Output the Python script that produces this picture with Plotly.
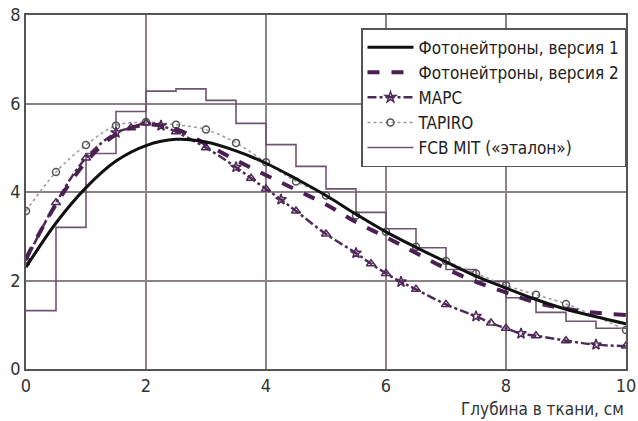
import plotly.graph_objects as go

# ---- data ----
x_v1 = [0, 0.5, 1, 1.5, 2, 2.5, 3, 3.5, 4, 4.5, 5, 5.5, 6, 6.5, 7, 7.5, 8, 8.5, 9, 9.5, 10]
y_v1 = [2.3, 3.3, 4.1, 4.7, 5.05, 5.19, 5.13, 4.93, 4.65, 4.3, 3.92, 3.5, 3.1, 2.75, 2.42, 2.1, 1.83, 1.57, 1.35, 1.18, 1.02]

x_v2 = [0, 0.5, 1, 1.5, 2, 2.5, 3, 3.5, 4, 4.5, 5, 5.5, 6, 6.5, 7, 7.5, 8, 8.5, 9, 9.5, 10]
y_v2 = [2.5, 3.72, 4.68, 5.3, 5.52, 5.42, 5.08, 4.72, 4.38, 4.05, 3.72, 3.32, 2.98, 2.62, 2.27, 1.97, 1.73, 1.5, 1.36, 1.27, 1.22]

x_mapc = [0, 0.5, 1, 1.5, 1.75, 2, 2.25, 2.5, 3, 3.5, 3.75, 4, 4.25, 4.5, 5, 5.5, 5.75, 6, 6.25, 6.5, 7, 7.5, 7.75, 8, 8.25, 8.5, 9, 9.5, 10]
y_mapc = [2.45, 3.76, 4.77, 5.34, 5.45, 5.56, 5.5, 5.36, 5.0, 4.56, 4.31, 4.07, 3.83, 3.57, 3.05, 2.62, 2.38, 2.16, 1.97, 1.8, 1.46, 1.19, 1.04, 0.92, 0.8, 0.75, 0.64, 0.55, 0.52]

x_tapiro = [0, 0.5, 1, 1.5, 2, 2.5, 3, 3.5, 4, 4.5, 5, 5.5, 6, 6.5, 7, 7.5, 8, 8.5, 9, 10]
y_tapiro = [3.57, 4.45, 5.06, 5.5, 5.58, 5.52, 5.41, 5.11, 4.67, 4.24, 3.92, 3.47, 3.1, 2.76, 2.44, 2.16, 1.89, 1.68, 1.47, 0.88]

x_fcb = [0, 0.5, 1, 1.5, 2, 2.5, 3, 3.5, 4, 4.5, 5, 5.5, 6, 6.5, 7, 7.5, 8, 8.5, 9, 9.5, 10]
y_fcb = [1.32, 3.2, 4.87, 5.82, 6.28, 6.33, 6.07, 5.55, 5.07, 4.58, 4.07, 3.54, 3.17, 2.74, 2.25, 1.98, 1.61, 1.28, 1.08, 0.92, 0.92]

names = ["Фотонейтроны, версия 1", "Фотонейтроны, версия 2", "МАРС", "TAPIRO", "FCB MIT («эталон»)"]
x_ticks = [0, 2, 4, 6, 8, 10]
y_ticks = [0, 2, 4, 6, 8]
x_title = "Глубина в ткани, см"

FONT = "DejaVu Sans Condensed, DejaVu Sans, sans-serif"

fig = go.Figure()

fig.add_trace(go.Scatter(x=x_fcb, y=y_fcb, mode="lines", line_shape="hv", name=names[4],
                         line=dict(color="#6e5470", width=1.6)))
fig.add_trace(go.Scatter(x=x_tapiro, y=y_tapiro, mode="lines+markers", name=names[3],
                         line=dict(color="#9a9a9a", width=1.5, dash="dot", shape="spline"),
                         marker=dict(symbol="circle-open", size=7, color="#555555", line=dict(width=1.5))))
mapc_symbols = ["star-open" if i % 3 == 0 else "triangle-up-open" for i in range(len(x_mapc))]
fig.add_trace(go.Scatter(x=x_mapc, y=y_mapc, mode="lines+markers", name=names[2],
                         line=dict(color="#4f2a58", width=2.5, dash="dashdot", shape="spline"),
                         marker=dict(symbol=mapc_symbols, size=8, color="#4f2a58", line=dict(width=1.5))))
fig.add_trace(go.Scatter(x=x_v2, y=y_v2, mode="lines", name=names[1],
                         line=dict(color="#4a1f52", width=4, dash="dash", shape="spline")))
fig.add_trace(go.Scatter(x=x_v1, y=y_v1, mode="lines", name=names[0],
                         line=dict(color="#111111", width=3, shape="spline")))

fig.add_annotation(text=x_title, xref="paper", yref="paper", x=1.0, y=-0.114,
                   xanchor="right", yanchor="middle", showarrow=False,
                   font=dict(family=FONT, size=17, color="#333333"))

fig.update_layout(
    width=638, height=421,
    margin=dict(l=26, r=12, t=15, b=52, autoexpand=False),
    paper_bgcolor="white", plot_bgcolor="white",
    font=dict(family=FONT, size=18, color="#333333"),
    legend=dict(x=1.0, y=0.963, xanchor="right", yanchor="top", traceorder="reversed",
                bgcolor="white", bordercolor="#555555", borderwidth=1.5,
                font=dict(family=FONT, size=17, color="#222222"),
                itemwidth=46, tracegroupgap=0),
    showlegend=True,
)
fig.update_xaxes(range=[0, 10], tickvals=x_ticks, showgrid=True, gridcolor="#8c8088", gridwidth=1.5,
                 showline=True, linecolor="#555555", linewidth=1.5, mirror=True, zeroline=False,
                 ticks="", ticklen=0, tickfont=dict(size=18), automargin=False,
                 ticklabeloverflow="allow")
fig.update_yaxes(range=[0, 8], tickvals=y_ticks, showgrid=True, gridcolor="#8c8088", gridwidth=1.5,
                 showline=True, linecolor="#555555", linewidth=1.5, mirror=True, zeroline=False,
                 ticks="", ticklen=0, tickfont=dict(size=18), automargin=False,
                 ticklabeloverflow="allow")

# remove the browser's default 8px body margin so the figure fills the window exactly
fig.write_html("out.html", config={"displayModeBar": False},
               post_script="document.body.style.margin='0';document.body.style.overflow='hidden';")
